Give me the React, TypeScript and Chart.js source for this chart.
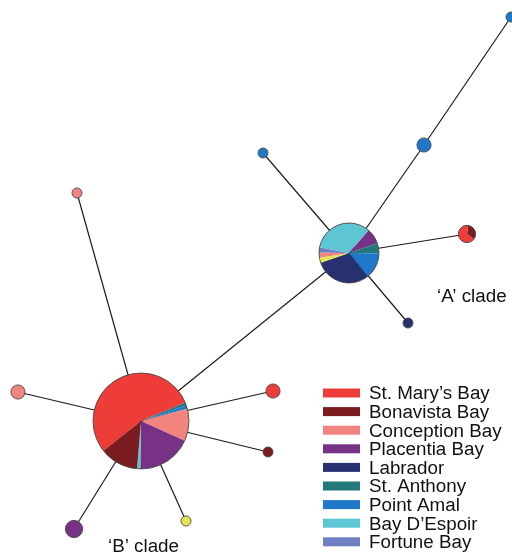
import React, { useEffect, useRef } from "react";
import { Chart, registerables } from "chart.js";

Chart.register(...registerables);

// Categories (sampling regions) and their colours
const legendCategories = [
  "St. Mary\u2019s Bay",
  "Bonavista Bay",
  "Conception Bay",
  "Placentia Bay",
  "Labrador",
  "St. Anthony",
  "Point Amal",
  "Bay D\u2019Espoir",
  "Fortune Bay",
];
const extraCategories = ["Other"];
const categoryColors = [
  "#ee3d38",
  "#7b1c21",
  "#f28480",
  "#773285",
  "#27316f",
  "#22787a",
  "#1f78c8",
  "#5ec6d2",
  "#6f80c2",
  "#e6e650",
];

// Haplotype nodes (layout coordinates)
const nodeNames = ["B", "A", "n1", "n2", "n3", "n4", "n5", "n6", "n7", "n8", "n9", "n10", "n11"];
const nodeX = [141, 349, 424, 511, 263, 467, 408, 77, 18, 273, 268, 186, 74];
const nodeY = [421, 253, 145, 17, 153, 234, 323, 193, 392, 391, 452, 521, 529];
// slice categories (drawing order) and counts per node
const nodeCats: number[][] = [
  [0, 5, 6, 2, 3, 7, 1],
  [4, 9, 2, 8, 7, 3, 5, 6],
  [6],
  [6],
  [6],
  [1, 0],
  [4],
  [2],
  [2],
  [0],
  [1],
  [9],
  [3],
];
const nodeCounts: number[][] = [
  [50, 1, 1, 10, 17, 1, 12],
  [11, 1, 1, 1, 12, 3, 2, 5],
  [2],
  [1],
  [1],
  [1, 2],
  [1],
  [1],
  [2],
  [2],
  [1],
  [1],
  [3],
];
const nodeStartDeg = [141.7, 51, 0, 0, 0, -82, 0, 0, 0, 0, 0, 0, 0];

// Network edges (node index pairs)
const edgeFrom = [0, 1, 2, 1, 1, 1, 0, 0, 0, 0, 0, 0];
const edgeTo = [1, 2, 3, 4, 5, 6, 7, 8, 9, 10, 11, 12];

// Clade labels
const cladeLabels = ["\u2018A\u2019 clade", "\u2018B\u2019 clade"];
const cladeX = [437, 108];
const cladeY = [302, 552];

const FONT = "'Liberation Sans', Arial, Helvetica, sans-serif";

export default function App() {
  const ref = useRef<HTMLCanvasElement | null>(null);

  useEffect(() => {
    document.body.style.margin = "0";
    const canvas = ref.current;
    if (!canvas) return;

    const edgeDatasets = edgeFrom.map((f, i) => ({
      type: "scatter" as const,
      label: `edge-${i}`,
      data: [
        { x: nodeX[f], y: nodeY[f] },
        { x: nodeX[edgeTo[i]], y: nodeY[edgeTo[i]] },
      ],
      showLine: true,
      borderColor: "#1c1c1c",
      borderWidth: 1.2,
      pointRadius: 0,
      pointHoverRadius: 0,
      fill: false,
    }));

    const nodePlugin = {
      id: "haploNodes",
      afterDatasetsDraw(chart: any) {
        const ctx: CanvasRenderingContext2D = chart.ctx;
        const xs = chart.scales.x;
        const ys = chart.scales.y;
        const unit = Math.abs(xs.getPixelForValue(5) - xs.getPixelForValue(0));
        ctx.save();
        nodeNames.forEach((_, i) => {
          const cx = xs.getPixelForValue(nodeX[i]);
          const cy = ys.getPixelForValue(nodeY[i]);
          const counts = nodeCounts[i];
          const total = counts.reduce((a, b) => a + b, 0);
          const r = unit * Math.sqrt(total);
          let a = (nodeStartDeg[i] * Math.PI) / 180;
          counts.forEach((c, k) => {
            const span = (c / total) * Math.PI * 2;
            ctx.beginPath();
            if (counts.length > 1) ctx.moveTo(cx, cy);
            ctx.arc(cx, cy, r, a, a + span);
            ctx.closePath();
            ctx.fillStyle = categoryColors[nodeCats[i][k]];
            ctx.fill();
            a += span;
          });
          ctx.beginPath();
          ctx.arc(cx, cy, r, 0, Math.PI * 2);
          ctx.strokeStyle = "#4a4a4a";
          ctx.lineWidth = 0.9;
          ctx.stroke();
        });

        // clade labels
        ctx.fillStyle = "#111";
        ctx.font = `18.8px ${FONT}`;
        ctx.textBaseline = "alphabetic";
        ctx.textAlign = "left";
        cladeLabels.forEach((t, i) => {
          ctx.fillText(t, xs.getPixelForValue(cladeX[i]), ys.getPixelForValue(cladeY[i]));
        });

        // legend
        const lx = xs.getPixelForValue(323);
        legendCategories.forEach((name, i) => {
          const cyv = ys.getPixelForValue(393 + i * 18.6);
          ctx.fillStyle = categoryColors[i];
          ctx.fillRect(lx, cyv - 4.5, 37, 9);
          ctx.fillStyle = "#111";
          ctx.fillText(name, lx + 46, cyv + 6.3);
        });
        ctx.restore();
      },
    };

    const chart = new Chart(canvas, {
      type: "scatter",
      data: { datasets: edgeDatasets as any },
      options: {
        animation: false,
        responsive: true,
        maintainAspectRatio: false,
        layout: { padding: 0 },
        events: [],
        scales: {
          x: { type: "linear", min: 0, max: 512, display: false },
          y: { type: "linear", min: 0, max: 554, reverse: true, display: false },
        },
        plugins: {
          legend: { display: false },
          tooltip: { enabled: false },
        },
      },
      plugins: [nodePlugin],
    });

    return () => chart.destroy();
  }, []);

  void extraCategories;

  return (
    <div style={{ position: "relative", width: 512, height: 554, overflow: "hidden", background: "#fff" }}>
      <canvas ref={ref} />
    </div>
  );
}
